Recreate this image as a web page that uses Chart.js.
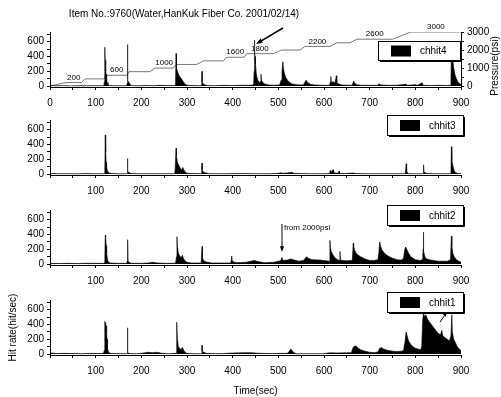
<!DOCTYPE html>
<html>
<head>
<meta charset="utf-8">
<script src="https://cdn.jsdelivr.net/npm/chart.js@4.4.1/dist/chart.umd.min.js"></script>
<style>
  body { margin: 0; background: #fff; width: 501px; height: 397px; overflow: hidden; }
  canvas { position: absolute; left: 0; }
</style>
</head>
<body>
<canvas id="p4" width="501" height="112" style="top:0"></canvas>
<canvas id="p3" width="501" height="90" style="top:110px"></canvas>
<canvas id="p2" width="501" height="90" style="top:200px"></canvas>
<canvas id="p1" width="501" height="107" style="top:290px"></canvas>
<script>
const TITLE = "Item No.:9760(Water,HanKuk Fiber Co. 2001/02/14)";

// hit rate [time (sec), hits/sec]
const chhit4 = [
  [0,0],[4,12],[8,6],[15,4],[30,6],[45,3],[60,5],[75,4],[90,6],[105,5],[117,6],
  [118,15],[119,60],[120,525],[121,350],[122,200],[123,160],[124,120],[125,50],[127,20],[130,8],[140,6],[155,5],[166,6],
  [168,8],[169,40],[169.8,80],[170,560],[170.2,70],[172,60],[174,40],[176,15],[180,6],[195,5],[210,8],[225,6],[240,10],[255,8],[270,7],
  [274,10],[275,80],[276,440],[277,250],[279,200],[282,150],[285,120],[288,100],[292,60],[296,25],[300,12],[310,8],[325,6],
  [331,8],[332,30],[332.8,60],[333,200],[333.2,50],[336,30],[340,15],[345,8],[360,6],[380,10],[400,8],[420,12],[435,10],[444,15],
  [446,30],[447,200],[447.8,440],[448,620],[448.2,440],[449,400],[450,300],[452,150],[455,80],[458,50],[460,60],[462,160],[463,80],[466,50],[470,30],[480,15],[490,12],[500,15],
  [503,20],[506,80],[508,200],[510,330],[511,250],[513,180],[516,120],[520,80],[525,50],[530,30],[540,20],[550,15],
  [555,18],[558,50],[561,80],[564,50],[570,25],[580,15],[595,12],[605,10],[612,12],[614,60],[615,130],[616,50],[620,60],[624,40],[627,140],[628,50],[632,30],[640,15],[650,12],
  [662,12],[665,70],[667,40],[672,20],[680,12],[700,10],[718,10],[720,30],[725,15],[740,10],[760,12],[780,25],[783,10],[800,20],[805,10],[815,45],[817,10],[830,8],[850,10],[870,8],[876,12],
  [878,100],[879,450],[880,420],[882,350],[884,250],[887,150],[890,100],[894,50],[898,30],[900,20]
];
const chhit3 = [
  [0,0],[5,8],[20,5],[40,6],[60,4],[80,7],[100,5],[118,5],
  [119,8],[120,40],[121,530],[122,300],[123,160],[124,100],[126,40],[130,15],[135,8],[150,5],[168,5],
  [169,8],[169.8,30],[170,210],[170.2,30],[173,25],[176,10],[190,5],[210,6],[230,5],[250,6],[272,5],
  [273,8],[274,60],[276,350],[277,250],[279,160],[282,120],[285,80],[288,60],[291,90],[293,60],[296,30],[300,10],[315,8],[330,6],
  [331,8],[332,50],[332.8,60],[333,150],[333.2,50],[336,30],[340,20],[345,10],[350,6],[380,5],[420,8],[450,6],[480,5],[500,10],
  [505,18],[510,12],[520,15],[530,25],[533,12],[545,8],[570,6],[600,5],[612,8],
  [614,50],[615,20],[620,60],[621,25],[625,15],[630,10],[633,40],[634,10],[645,8],[665,15],[668,8],[700,5],[740,6],[776,5],
  [778,8],[780,140],[781,40],[783,15],[786,6],[800,5],[816,5],
  [817,8],[818,125],[819,30],[821,10],[840,6],[860,5],[876,6],
  [878,60],[879,370],[880,180],[882,120],[885,50],[888,20],[892,10],[900,5]
];
const chhit2 = [
  [0,0],[5,10],[20,8],[40,10],[60,8],[80,12],[100,10],[118,10],
  [119,15],[120,60],[121,390],[122,370],[123,250],[124,150],[126,60],[128,30],[132,15],[150,10],[167,10],
  [168,12],[169,40],[170,330],[171,40],[173,25],[178,12],[200,10],[215,15],[225,25],[235,15],[255,10],[274,12],
  [275,15],[277,100],[278,370],[279,250],[281,150],[284,110],[287,90],[290,120],[292,80],[295,50],[300,25],[310,15],[330,15],
  [331,18],[333,240],[334,90],[336,50],[340,35],[345,25],[355,15],[380,15],[395,15],
  [396,20],[398,110],[399,50],[402,30],[410,20],[430,25],[440,40],[447,50],[455,35],[470,20],[490,25],[500,40],
  [505,45],[508,90],[510,50],[520,55],[527,70],[535,55],[545,40],[555,50],[562,100],[566,75],[575,60],[590,55],[605,45],
  [611,40],[613,320],[614,220],[616,170],[620,120],[625,80],[630,60],[634,50],[635,170],[636,60],[640,50],[650,45],[660,50],
  [662,60],[664,280],[665,240],[667,190],[670,150],[675,120],[680,100],[690,70],[700,50],[710,50],
  [718,60],[720,150],[722,300],[724,240],[727,190],[732,150],[740,110],[750,80],[760,60],[770,55],
  [774,80],[777,200],[779,230],[781,200],[785,150],[790,100],[800,60],[810,50],
  [816,60],[817,200],[817.8,200],[818,430],[818.2,180],[819,150],[822,80],[830,60],[840,50],[850,40],[860,40],[870,40],
  [877,60],[879,380],[880,250],[882,150],[885,100],[890,60],[895,40],[900,30]
];
const chhit1 = [
  [0,0],[3,15],[8,12],[15,8],[30,10],[50,8],[70,6],[90,10],[105,8],[117,10],
  [118,10],[119,50],[120,440],[121,420],[122,400],[123,380],[124,300],[125,200],[126,80],[128,30],[132,10],[150,6],[168,5],
  [169,5],[169.7,30],[170,355],[170.3,20],[174,8],[190,5],[205,15],[215,25],[225,20],[235,25],[245,10],[260,6],[275,10],
  [276,10],[277,120],[278,430],[279,200],[281,100],[284,80],[287,60],[290,90],[293,50],[297,20],[302,8],[320,5],[330,5],
  [331,5],[332.8,40],[333,120],[333.2,40],[337,25],[342,10],[360,6],[380,8],[400,15],[420,18],[440,20],[455,12],[480,8],[510,10],
  [520,10],[524,40],[527,70],[530,50],[534,20],[540,5],[570,5],[600,6],[612,18],[630,15],[650,18],
  [660,20],[663,80],[666,105],[670,110],[675,80],[680,60],[690,40],[700,25],[710,20],
  [718,30],[722,80],[726,90],[730,70],[740,50],[750,40],[760,35],[770,40],
  [774,50],[777,150],[780,300],[782,250],[785,180],[790,130],[795,100],[800,80],[805,70],[812,60],
  [814,100],[816,450],[818,560],[820,500],[823,530],[826,480],[830,440],[835,400],[840,360],[845,320],[850,280],[855,260],[858,320],[860,250],[865,220],[870,200],[875,180],
  [878,250],[880,530],[881,300],[884,200],[888,150],[892,100],[896,70],[900,50]
];

// pressure [time (sec), psi]
const pressure = [
  [0,0],[30,170],[35,200],[69,200],[77,400],[118,400],[123,600],[169,600],[173,800],[219,800],[230,1000],[270,1000],
  [276,1200],[321,1200],[336,1400],[380,1400],[386,1600],[425,1600],[430,1800],[489,1800],[507,2000],[547,2000],
  [558,2200],[613,2200],[628,2400],[657,2400],[672,2600],[750,2600],[790,3000],[900,3000]
];
const pressureLabels = [200, 600, 1000, 1600, 1800, 2200, 2600, 3000];

// axis ticks (labelled every second one)
const hitTicks = [0, 100, 200, 300, 400, 500, 600, 700];
const psiTicks = [0, 500, 1000, 1500, 2000, 2500, 3000];

const FONT = "'Liberation Sans Narrow', 'Arial Narrow', 'Liberation Sans', Arial, sans-serif";
Chart.defaults.font.family = FONT;
Chart.defaults.font.size = 10;
Chart.defaults.color = '#000';

function arrow(ctx, x1, y1, x2, y2, head) {
  const a = Math.atan2(y2 - y1, x2 - x1);
  ctx.beginPath();
  ctx.moveTo(x1, y1);
  ctx.lineTo(x2 - Math.cos(a) * head * 0.8, y2 - Math.sin(a) * head * 0.8);
  ctx.stroke();
  ctx.beginPath();
  ctx.moveTo(x2, y2);
  ctx.lineTo(x2 - head * Math.cos(a - 0.35), y2 - head * Math.sin(a - 0.35));
  ctx.lineTo(x2 - head * Math.cos(a + 0.35), y2 - head * Math.sin(a + 0.35));
  ctx.closePath();
  ctx.fill();
}

function legendPlugin(label, box) {
  return {
    id: 'boxLegend',
    afterDatasetsDraw(chart) {
      const ctx = chart.ctx;
      ctx.save();
      ctx.fillStyle = '#fff';
      ctx.fillRect(box.x, box.y, box.w, box.h);
      ctx.strokeStyle = '#000';
      ctx.lineWidth = 1;
      ctx.strokeRect(box.x + 0.5, box.y + 0.5, box.w, box.h);
      ctx.beginPath();
      ctx.moveTo(box.x + 2, box.y + box.h + 1.5);
      ctx.lineTo(box.x + box.w + 1.5, box.y + box.h + 1.5);
      ctx.lineTo(box.x + box.w + 1.5, box.y + 2);
      ctx.stroke();
      ctx.fillStyle = '#000';
      ctx.fillRect(box.x + 13, box.y + box.h / 2 - 5, 20, 11);
      ctx.font = '10px ' + FONT;
      ctx.textBaseline = 'middle';
      ctx.fillText(label, box.x + 42, box.y + box.h / 2 + 1);
      ctx.restore();
    }
  };
}

const setTicks = list => s => { s.ticks = list.map(value => ({value})); };

function panel(id, series, o) {
  const datasets = [{
    data: series.map(([x, y]) => ({x, y})),
    borderColor: '#000',
    backgroundColor: '#000',
    borderWidth: 0.6,
    pointRadius: 0,
    fill: 'origin',
    tension: 0,
    yAxisID: 'y'
  }];
  const scales = {
    x: {
      type: 'linear', min: 0, max: 900,
      ticks: {
        stepSize: 50, maxTicksLimit: 30, autoSkip: false, maxRotation: 0, padding: 7,
        callback: v => (v % 100 === 0 && (v > 0 || o.zero)) ? v : ''
      },
      grid: {drawOnChartArea: false, tickLength: 3, color: '#000'},
      border: {color: '#000', width: 1},
      title: o.xTitle ? {display: true, text: o.xTitle, font: {size: 10}, padding: {top: 0, bottom: 0}} : {display: false},
      afterFit: s => { s.height = o.xh; }
    },
    y: {
      min: -12, max: 730,
      afterBuildTicks: setTicks(hitTicks),
      ticks: {autoSkip: false, padding: 3, callback: v => v % 200 === 0 ? v : ''},
      grid: {drawOnChartArea: false, tickLength: 3, color: '#000'},
      border: {color: '#000', width: 1},
      title: o.yTitle ? {display: true, text: o.yTitle, font: {size: 10}, padding: {top: 7}} : {display: false},
      afterFit: s => { s.width = 50; }
    }
  };
  if (o.pressure) {
    datasets.push({
      data: pressure.map(([x, y]) => ({x, y})),
      borderColor: '#555',
      borderWidth: 0.8,
      pointRadius: 0,
      fill: false,
      tension: 0,
      yAxisID: 'y2'
    });
    scales.y2 = {
      position: 'right', min: -49, max: 3000,
      afterBuildTicks: setTicks(psiTicks),
      ticks: {autoSkip: false, padding: 3, callback: v => v % 1000 === 0 ? v : ''},
      grid: {drawOnChartArea: false, tickLength: 3, color: '#000'},
      border: {color: '#000', width: 1},
      afterFit: s => { s.width = 40; }
    };
  }
  return new Chart(document.getElementById(id), {
    type: 'line',
    data: {datasets},
    options: {
      responsive: false,
      animation: false,
      events: [],
      layout: {padding: {top: o.top, left: 0, right: o.pressure ? 0 : 40, bottom: 0}},
      plugins: {legend: {display: false}, tooltip: {enabled: false}},
      scales
    },
    plugins: [legendPlugin(o.label, o.box), {id: 'notes', afterDatasetsDraw: o.notes || (() => {})}]
  });
}

panel('p4', chhit4, {
  label: 'chhit4', top: 32, xh: 25, zero: true, pressure: true,
  box: {x: 378, y: 41, w: 82, h: 19},
  notes(chart) {
    const ctx = chart.ctx;
    const x = chart.scales.x, y2 = chart.scales.y2;
    ctx.save();
    ctx.fillStyle = '#000';
    ctx.font = '10px ' + FONT;
    ctx.textAlign = 'center';
    ctx.textBaseline = 'middle';
    ctx.fillText(TITLE, 184, 14);
    // step labels above each pressure hold
    ctx.font = '8px ' + FONT;
    ctx.textBaseline = 'bottom';
    pressureLabels.forEach(p => {
      const i = pressure.findIndex((d, k) => d[1] === p && pressure[k + 1] && pressure[k + 1][1] === p);
      const t = (pressure[i][0] + pressure[i + 1][0]) / 2;
      ctx.fillText(String(p), x.getPixelForValue(t), y2.getPixelForValue(p) - 1);
    });
    ctx.strokeStyle = '#000';
    ctx.lineWidth = 1.5;
    arrow(ctx, 283, 28, 256, 44, 7);
    // right axis title, reading upwards
    ctx.translate(495, 66);
    ctx.rotate(-Math.PI / 2);
    ctx.font = '10px ' + FONT;
    ctx.textBaseline = 'middle';
    ctx.fillText('Pressure(psi)', 0, 0);
    ctx.restore();
  }
});

panel('p3', chhit3, {label: 'chhit3', top: 10, xh: 25, box: {x: 387, y: 5, w: 76, h: 20}});

panel('p2', chhit2, {
  label: 'chhit2', top: 10, xh: 25, box: {x: 387, y: 5, w: 76, h: 20},
  notes(chart) {
    const ctx = chart.ctx;
    const px = chart.scales.x.getPixelForValue(508);
    ctx.save();
    ctx.strokeStyle = '#000';
    ctx.fillStyle = '#000';
    ctx.lineWidth = 1;
    arrow(ctx, px, 24, px, 52, 6);
    ctx.font = '8px ' + FONT;
    ctx.textBaseline = 'middle';
    ctx.fillText('from 2000psi', px + 2, 28);
    ctx.restore();
  }
});

panel('p1', chhit1, {
  label: 'chhit1', top: 10, xh: 42, xTitle: 'Time(sec)', yTitle: 'Hit rate(hit/sec)',
  box: {x: 387, y: 2, w: 76, h: 20},
  notes(chart) {
    const ctx = chart.ctx;
    ctx.save();
    ctx.strokeStyle = '#000';
    ctx.fillStyle = '#000';
    ctx.lineWidth = 1;
    arrow(ctx, 440, 32, 447, 22, 5);
    ctx.restore();
  }
});
</script>
</body>
</html>
